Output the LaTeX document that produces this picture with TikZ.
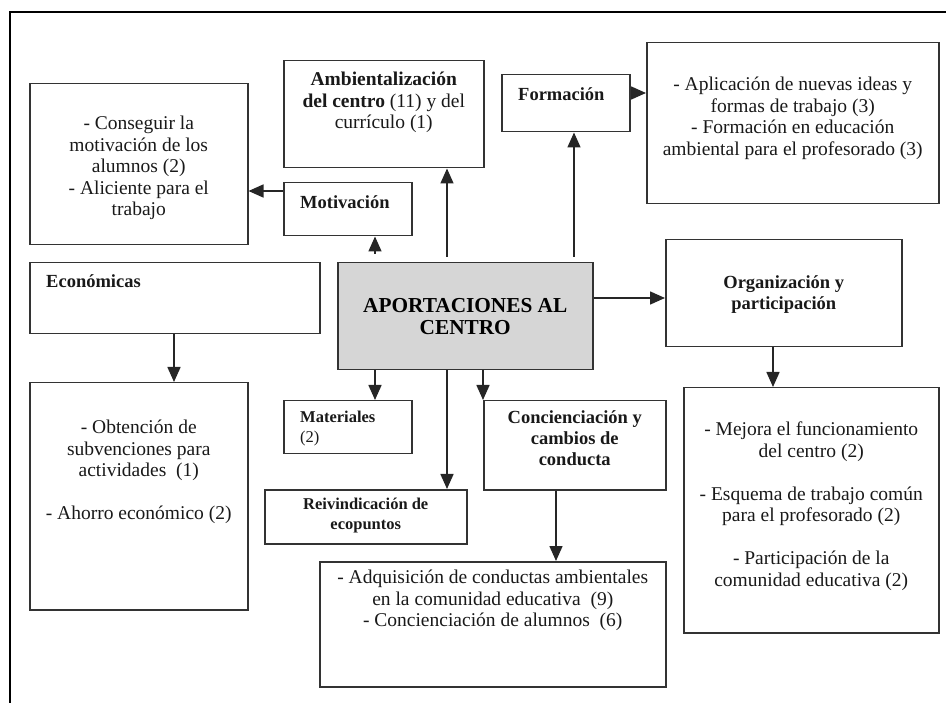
\documentclass[tikz,border=0pt]{standalone}
\usepackage{fontspec}
\setmainfont{Liberation Serif}
\usetikzlibrary{positioning,arrows.meta}

\begin{document}
\begin{tikzpicture}[x=1pt, y=-1pt,
  box/.style={draw=black!80, line width=1.5pt, inner sep=0pt, anchor=north west},
  txt/.style={inner sep=0pt, align=center, text=black!90, font=\fontsize{19.5}{21.5}\selectfont},
  tit/.style={txt, font=\bfseries\fontsize{18.5}{21}\selectfont},
  sml/.style={txt, font=\bfseries\fontsize{16.5}{19.5}\selectfont},
  arr/.style={-{Triangle[length=15pt,width=13pt]}, line width=1.6pt, draw=black!85}]
  \useasboundingbox (0,0) rectangle (946,703);
  \draw[line width=1.5pt] (10,703) -- (10,12) -- (946,12);

  % boxes
  \node(ambi)[box, minimum width=200pt, minimum height=107pt] at (283,60) {};
  \node(mot)[box, minimum width=128pt, minimum height=53pt] at (283,182) {};
  \node(motr)[box, minimum width=218pt, minimum height=161pt] at (29,83) {};
  \node(econ)[box, minimum width=290pt, minimum height=71pt] at (29,262) {};
  \node(econr)[box, minimum width=218pt, minimum height=227pt] at (29,382) {};
  \node(centre)[box, fill=black!16, minimum width=255pt, minimum height=107pt,
    align=center, font=\bfseries\fontsize{21.3}{22}\selectfont] at (337,262) {APORTACIONES AL\\CENTRO};
  \node(form)[box, minimum width=128pt, minimum height=57pt] at (501,74) {};
  \node(formr)[box, minimum width=292pt, minimum height=161pt] at (646,42) {};
  \node(org)[box, minimum width=236pt, minimum height=107pt] at (665,239) {};
  \node(orgr)[box, minimum width=255pt, minimum height=245pt] at (683,387) {};
  \node(mat)[box, minimum width=128pt, minimum height=53pt] at (283,400) {};
  \node(reiv)[box, minimum width=202pt, minimum height=54pt] at (264,489) {};
  \node(conc)[box, minimum width=182pt, minimum height=89pt] at (483,400) {};
  \node(adq)[box, minimum width=346pt, minimum height=125pt] at (319,561) {};

  % texts
  \node(ambit)[txt, below=12pt of ambi.north] {\textbf{Ambientalización}\\\textbf{del centro} (11) y del\\currículo (1)};
  \node(mott)[tit, right=17pt of mot.west, yshift=7pt] {Motivación};
  \node(motrt)[txt, below=33pt of motr.north] {- Conseguir la\\motivación de los\\alumnos (2)\\- Aliciente para el\\trabajo};
  \node(econt)[tit, below right=12pt and 17pt of econ.north west] {Económicas};
  \node(econrt)[txt, below=38pt of econr.north] {- Obtención de\\subvenciones para\\actividades~~(1)\\[21.5pt]- Ahorro económico (2)};
  \node(formt)[tit, right=17pt of form.west, yshift=9pt] {Formación};
  \node(formrt)[txt, below=35pt of formr.north] {- Aplicación de nuevas ideas y\\formas de trabajo (3)\\- Formación en educación\\ambiental para el profesorado (3)};
  \node(orgt)[tit, below=36pt of org.north] {Organización y\\participación};
  \node(orgrt)[txt, below=35pt of orgr.north] {- Mejora el funcionamiento\\del centro (2)\\[21.5pt]- Esquema de trabajo común\\para el profesorado (2)\\[21.5pt]- Participación de la\\comunidad educativa (2)};
  \node(matt)[sml, align=left, below right=11pt and 17pt of mat.north west] {Materiales\\{\mdseries (2)}};
  \node(reivt)[sml, below=9pt of reiv.north] {Reivindicación de\\ecopuntos};
  \node(conct)[tit, below=10pt of conc.north] {Concienciación y\\cambios de\\conducta};
  \node(adqt)[txt, below=9pt of adq.north] {- Adquisición de conductas ambientales\\en la comunidad educativa~~(9)\\- Concienciación de alumnos~~(6)};

  % connectors
  \draw[arr, shorten <=8pt] ([xshift=38pt]centre.north west) -- ([xshift=92pt]mot.south west);
  \draw[arr, shorten <=5pt] ([xshift=110pt]centre.north west) -- ([xshift=164pt]ambi.south west);
  \draw[arr, shorten <=5pt] ([xshift=237pt]centre.north west) -- ([xshift=73pt]form.south west);
  \draw[arr] ([yshift=-9pt]mot.north west) -- ([yshift=-108pt]motr.north east);
  \draw[arr] ([yshift=-19pt]form.north east) -- ([yshift=-51pt]formr.north west);
  \draw[arr] ([yshift=-36pt]centre.north east) -- ([yshift=-59pt]org.north west);
  \draw[arr] ([xshift=108pt]org.south west) -- ([xshift=90pt]orgr.north west);
  \draw[arr] ([xshift=145pt]econ.south west) -- ([xshift=145pt]econr.north west);
  \draw[arr] ([xshift=38pt]centre.south west) -- ([xshift=92pt]mat.north west);
  \draw[arr] ([xshift=110pt]centre.south west) -- ([xshift=183pt]reiv.north west);
  \draw[arr] ([xshift=146pt]centre.south west) -- (conc.north west);
  \draw[arr] ([xshift=73pt]conc.south west) -- ([xshift=237pt]adq.north west);
\end{tikzpicture}
\end{document}
